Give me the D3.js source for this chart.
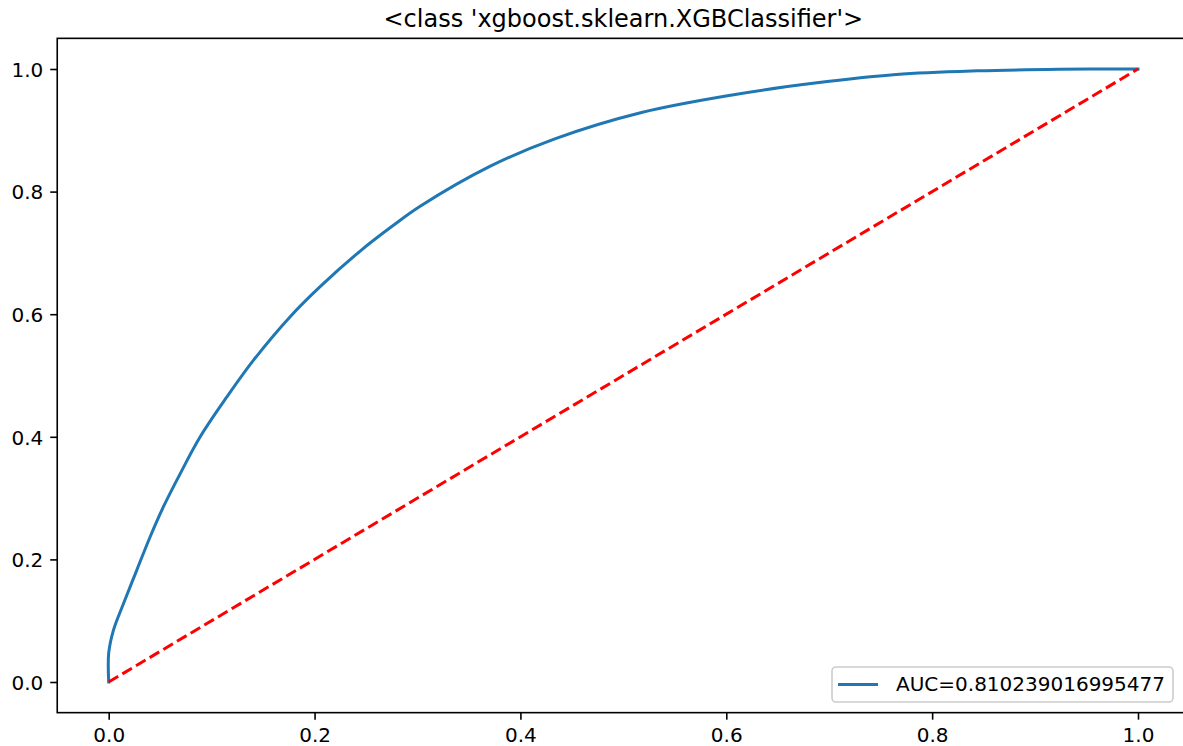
<!DOCTYPE html>
<html>
<head>
<meta charset="utf-8">
<script src="https://cdn.jsdelivr.net/npm/d3@7"></script>
<style>
  html, body { margin: 0; padding: 0; background: #fff; }
  svg { display: block; font-family: "DejaVu Sans", sans-serif; }
</style>
</head>
<body>
<svg id="chart" width="1183" height="746"></svg>
<script>
// ---- data ----
const titleText = "<class 'xgboost.sklearn.XGBClassifier'>";
const legendLabel = "AUC=0.810239016995477";
const fpr = [0, 0, 0.0047, 0.0144, 0.0274, 0.0403, 0.0532, 0.0695, 0.0889, 0.1148, 0.1407, 0.1763, 0.2054, 0.2443, 0.2766, 0.3026, 0.3703, 0.4334, 0.5177, 0.6072, 0.6862, 0.7651, 0.8441, 0.923, 1.0];
const tpr = [0, 0.047, 0.085, 0.128, 0.183, 0.237, 0.286, 0.340, 0.400, 0.465, 0.525, 0.596, 0.645, 0.703, 0.745, 0.776, 0.841, 0.886, 0.929, 0.958, 0.977, 0.991, 0.997, 0.9995, 1.0];
const diagX = [0, 1];
const diagY = [0, 1];
const xTicks = [0, 0.2, 0.4, 0.6, 0.8, 1.0];
const yTicks = [0, 0.2, 0.4, 0.6, 0.8, 1.0];

// ---- layout ----
const svg = d3.select("#chart");
const u = 1029.3, x0 = 108.7;
const uy = 613, y0 = 682;
const x = d3.scaleLinear().domain([-0.05, 1.05]).range([x0 - 0.05 * u, x0 + 1.05 * u]);
const y = d3.scaleLinear().domain([-0.05, 1.05]).range([y0 + 0.05 * uy, y0 - 1.05 * uy]);
const [L, R] = x.range();
const [B, T] = y.range();

const fontSize = 20;
const tickLen = 7, tickPad = 7;

// curve
const pts = fpr.map((f, i) => [f, tpr[i]]);
svg.append("path")
  .datum(pts)
  .attr("fill", "none")
  .attr("stroke", "#1f77b4")
  .attr("stroke-width", 3)
  .attr("stroke-linejoin", "round")
  .attr("stroke-linecap", "square")
  .attr("d", d3.line().x(d => x(d[0])).y(d => y(d[1])).curve(d3.curveCatmullRom.alpha(0.5)));

// diagonal
svg.append("path")
  .datum(diagX.map((v, i) => [v, diagY[i]]))
  .attr("fill", "none")
  .attr("stroke", "#ff0000")
  .attr("stroke-width", 3)
  .attr("stroke-dasharray", "11.1,4.8")
  .attr("d", d3.line().x(d => x(d[0])).y(d => y(d[1])));

// x axis
const xAxis = d3.axisBottom(x).tickValues(xTicks).tickFormat(d3.format(".1f"))
  .tickSize(tickLen).tickPadding(tickPad).tickSizeOuter(0);
const gx = svg.append("g").attr("transform", `translate(0,${B})`).call(xAxis);
gx.select(".domain").remove();
gx.selectAll(".tick line").attr("stroke", "#000").attr("stroke-width", 1.6);
gx.selectAll(".tick text").attr("font-size", fontSize).attr("fill", "#000")
  .attr("font-family", "DejaVu Sans").attr("dy", null).attr("y", 742.5 - B);

// y axis
const yAxis = d3.axisLeft(y).tickValues(yTicks).tickFormat(d3.format(".1f"))
  .tickSize(tickLen).tickPadding(tickPad).tickSizeOuter(0);
const gy = svg.append("g").attr("transform", `translate(${L},0)`).call(yAxis);
gy.select(".domain").remove();
gy.selectAll(".tick line").attr("stroke", "#000").attr("stroke-width", 1.6);
gy.selectAll(".tick text").attr("font-size", fontSize).attr("fill", "#000")
  .attr("font-family", "DejaVu Sans").attr("dy", "0.365em");

// spines
svg.append("rect")
  .attr("x", L).attr("y", T).attr("width", R - L).attr("height", B - T)
  .attr("fill", "none").attr("stroke", "#000").attr("stroke-width", 1.6);

// title
svg.append("text")
  .attr("x", (L + R) / 2).attr("y", 27)
  .attr("text-anchor", "middle")
  .attr("font-size", 24)
  .attr("fill", "#000")
  .text(titleText);

// legend
const lg = svg.append("g");
lg.append("rect")
  .attr("x", 832).attr("y", 667).attr("width", 341).attr("height", 35)
  .attr("rx", 4).attr("ry", 4)
  .attr("fill", "#fff").attr("fill-opacity", 0.8)
  .attr("stroke", "#cccccc").attr("stroke-width", 1.6);
lg.append("line")
  .attr("x1", 838).attr("x2", 878).attr("y1", 684.5).attr("y2", 684.5)
  .attr("stroke", "#1f77b4").attr("stroke-width", 3);
lg.append("text")
  .attr("x", 896).attr("y", 690.5)
  .attr("font-size", fontSize).attr("fill", "#000")
  .text(legendLabel);
</script>
</body>
</html>
